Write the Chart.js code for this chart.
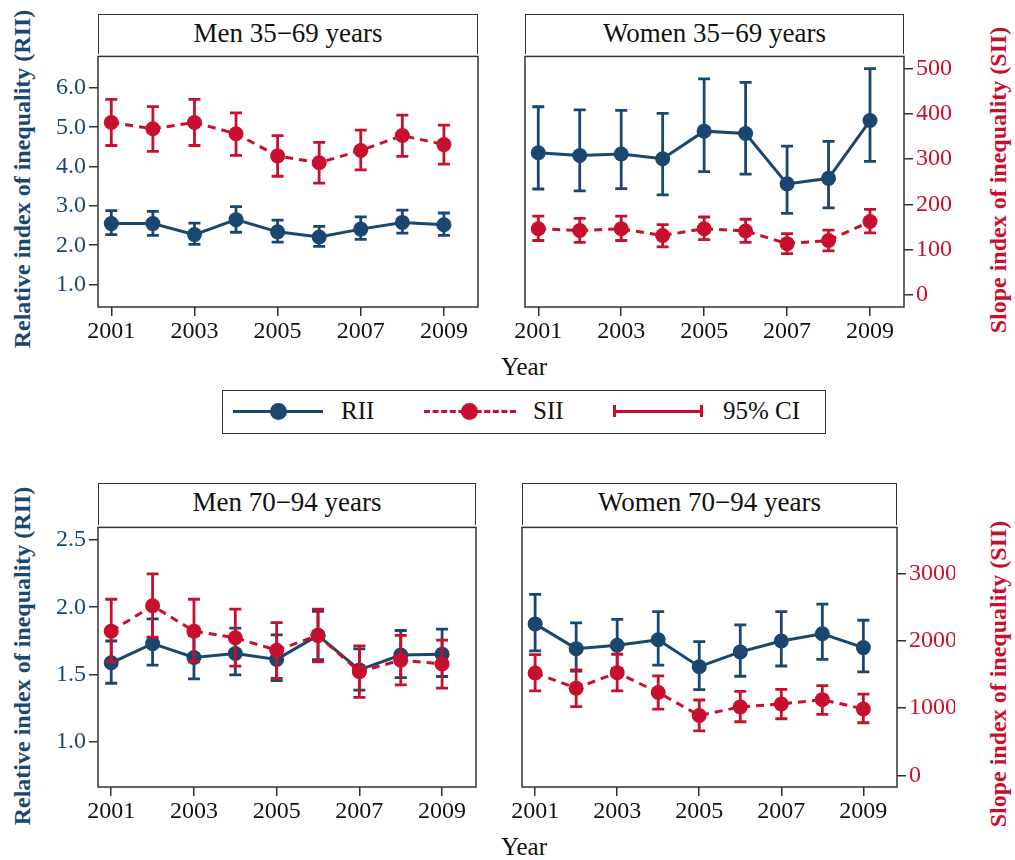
<!DOCTYPE html>
<html>
<head>
<meta charset="utf-8">
<script src="https://cdn.jsdelivr.net/npm/chart.js"></script>
<style>
  body { margin: 0; background: #fff; font-family: "Liberation Serif", serif; }
  #page { position: relative; width: 1015px; height: 860px; overflow: hidden; background: #fff; }
  canvas { position: absolute; }
  .hdr { position: absolute; box-sizing: border-box; border: 1.5px solid #333; border-bottom: none;
         text-align: center; font-size: 27px; color: #111; line-height: 37px; }
  .vtitle { position: absolute; font-weight: bold; font-size: 24px; white-space: nowrap;
            transform: translate(-50%, -50%) rotate(-90deg); }
  .xtitle { position: absolute; font-size: 25px; color: #111; transform: translate(-50%, -50%); }
  #legend { position: absolute; left: 222px; top: 390px; width: 604px; height: 44px; box-sizing: border-box;
            border: 1.5px solid #333; font-size: 25px; color: #111; }
  #legend span { position: absolute; top: 6px; }
  .lg { position: absolute; }
</style>
</head>
<body>
<div id="page">
  <div class="hdr" style="left:98px;top:14px;width:380px;height:40px;">Men 35−69 years</div>
  <div class="hdr" style="left:525px;top:14px;width:379px;height:40px;">Women 35−69 years</div>
  <div class="hdr" style="left:98px;top:483px;width:378px;height:42px;">Men 70−94 years</div>
  <div class="hdr" style="left:522px;top:483px;width:375px;height:42px;">Women 70−94 years</div>

  <div class="vtitle" style="left:22px;top:179px;color:#1a476f;">Relative index of inequality (RII)</div>
  <div class="vtitle" style="left:22px;top:656px;color:#1a476f;">Relative index of inequality (RII)</div>
  <div class="vtitle" style="left:998px;top:180px;color:#c8102e;">Slope index of inequality (SII)</div>
  <div class="vtitle" style="left:998px;top:674px;color:#c8102e;">Slope index of inequality (SII)</div>

  <div class="xtitle" style="left:524px;top:367px;">Year</div>
  <div class="xtitle" style="left:524px;top:847px;">Year</div>

  <div id="legend">
    <div class="lg" style="left:10px;top:19px;width:90px;border-top:3px solid #1a476f;"></div>
    <div class="lg" style="left:47px;top:12px;width:17px;height:17px;border-radius:50%;background:#1a476f;"></div>
    <span style="left:118px;">RII</span>
    <div class="lg" style="left:201px;top:19px;width:92px;border-top:3px dashed #c8102e;"></div>
    <div class="lg" style="left:238px;top:12px;width:17px;height:17px;border-radius:50%;background:#c8102e;"></div>
    <span style="left:310px;">SII</span>
    <div class="lg" style="left:390px;top:14px;width:90px;height:12px;box-sizing:border-box;border-left:3px solid #c8102e;border-right:3px solid #c8102e;"></div>
    <div class="lg" style="left:390px;top:19px;width:90px;border-top:3px solid #c8102e;"></div>
    <span style="left:500px;">95% CI</span>
  </div>

  <canvas id="c1"></canvas>
  <canvas id="c2"></canvas>
  <canvas id="c3"></canvas>
  <canvas id="c4"></canvas>
</div>

<script>
  var BLUE = '#1a476f';
  var RED = '#c8102e';

  var years = [2001, 2002, 2003, 2004, 2005, 2006, 2007, 2008, 2009];
  var yearTicks = [2001, 2003, 2005, 2007, 2009];

  // axis ticks
  var riiTicksYoung = [1, 2, 3, 4, 5, 6];
  var siiTicksYoung = [0, 100, 200, 300, 400, 500];
  var riiTicksOld = [1.0, 1.5, 2.0, 2.5];
  var siiTicksOld = [0, 1000, 2000, 3000];

  // Men 35-69
  var menYoungRii   = [2.55, 2.55, 2.27, 2.65, 2.34, 2.21, 2.41, 2.58, 2.52];
  var menYoungRiiLo = [2.27, 2.25, 2.02, 2.33, 2.08, 1.97, 2.15, 2.31, 2.25];
  var menYoungRiiHi = [2.88, 2.86, 2.56, 2.98, 2.64, 2.48, 2.72, 2.89, 2.82];
  var menYoungSii   = [381, 367, 381, 356, 307, 292, 319, 352, 332];
  var menYoungSiiLo = [330, 317, 330, 308, 262, 247, 276, 306, 289];
  var menYoungSiiHi = [432, 416, 432, 402, 352, 337, 364, 397, 375];

  // Women 35-69
  var womenYoungRii   = [4.35, 4.28, 4.32, 4.20, 4.90, 4.84, 3.56, 3.70, 5.17];
  var womenYoungRiiLo = [3.43, 3.38, 3.44, 3.28, 3.87, 3.81, 2.81, 2.95, 4.13];
  var womenYoungRiiHi = [5.52, 5.44, 5.43, 5.35, 6.23, 6.14, 4.52, 4.64, 6.49];
  var womenYoungSii   = [146, 142, 146, 131, 146, 141, 113, 120, 162];
  var womenYoungSiiLo = [120, 116, 120, 106, 122, 116, 91, 97, 137];
  var womenYoungSiiHi = [174, 169, 174, 155, 172, 167, 135, 143, 189];

  // Men 70-94
  var menOldRii   = [1.587, 1.729, 1.626, 1.656, 1.612, 1.791, 1.534, 1.644, 1.651];
  var menOldRiiLo = [1.435, 1.570, 1.468, 1.497, 1.455, 1.610, 1.384, 1.477, 1.485];
  var menOldRiiHi = [1.749, 1.913, 1.790, 1.844, 1.795, 1.970, 1.690, 1.827, 1.837];
  var menOldSii   = [2144, 2521, 2144, 2046, 1860, 2081, 1542, 1713, 1655];
  var menOldSiiLo = [1689, 2056, 1689, 1625, 1443, 1689, 1160, 1346, 1297];
  var menOldSiiHi = [2618, 2996, 2618, 2471, 2271, 2471, 1924, 2081, 2012];

  // Women 70-94
  var womenOldRii   = [1.876, 1.692, 1.717, 1.758, 1.558, 1.668, 1.749, 1.803, 1.700];
  var womenOldRiiLo = [1.675, 1.526, 1.546, 1.570, 1.387, 1.487, 1.563, 1.612, 1.519];
  var womenOldRiiHi = [2.096, 1.883, 1.910, 1.967, 1.744, 1.869, 1.967, 2.023, 1.903];
  var womenOldSii   = [1523, 1297, 1527, 1233, 891, 1018, 1062, 1126, 988];
  var womenOldSiiLo = [1258, 1023, 1258, 984, 661, 798, 842, 906, 783];
  var womenOldSiiHi = [1796, 1567, 1801, 1478, 1121, 1248, 1278, 1336, 1209];

  var tickFont = { family: 'Liberation Serif', size: 24 };

  // draws the 95% CI bars of each dataset right after that dataset
  var errorBars = {
    id: 'errorBars',
    afterDatasetDraw: function(chart, args) {
      var ds = chart.data.datasets[args.index];
      if (!ds.lo) return;
      var ctx = chart.ctx;
      var xs = chart.scales.x;
      var ys = chart.scales[ds.yAxisID];
      var a = chart.chartArea;
      ctx.save();
      ctx.beginPath();
      ctx.rect(a.left, a.top, a.right - a.left, a.bottom - a.top);
      ctx.clip();
      ctx.strokeStyle = ds.borderColor;
      ctx.lineWidth = 2.8;
      ctx.setLineDash([]);
      for (var i = 0; i < years.length; i++) {
        var x = xs.getPixelForValue(years[i]);
        var y1 = ys.getPixelForValue(ds.lo[i]);
        var y2 = ys.getPixelForValue(ds.hi[i]);
        ctx.beginPath();
        ctx.moveTo(x, y1); ctx.lineTo(x, y2);
        ctx.moveTo(x - 6, y1); ctx.lineTo(x + 6, y1);
        ctx.moveTo(x - 6, y2); ctx.lineTo(x + 6, y2);
        ctx.stroke();
      }
      ctx.restore();
    }
  };

  var frame = {
    id: 'frame',
    beforeDatasetsDraw: function(chart) {
      var a = chart.chartArea;
      var ctx = chart.ctx;
      ctx.save();
      ctx.strokeStyle = '#333';
      ctx.lineWidth = 1.5;
      ctx.strokeRect(a.left, a.top, a.right - a.left, a.bottom - a.top);
      ctx.restore();
    }
  };

  function pts(vals) {
    return vals.map(function(v, i) { return { x: years[i], y: v }; });
  }

  function makePanel(id, area, showLeft, showRight, rii, riiLo, riiHi, sii, siiLo, siiHi, riiRange, siiRange, riiTicks, siiTicks) {
    var cv = document.getElementById(id);
    var w = area.r - area.l + 120;
    var h = area.b - area.t + 60;
    cv.width = w; cv.height = h;
    cv.style.left = (area.l - 60) + 'px';
    cv.style.top = (area.t - 14) + 'px';

    new Chart(cv, {
      type: 'line',
      data: {
        datasets: [
          {
            label: 'RII', data: pts(rii), lo: riiLo, hi: riiHi, yAxisID: 'y', order: 2,
            borderColor: BLUE, backgroundColor: BLUE, borderWidth: 3,
            pointRadius: 7.5, pointBorderWidth: 0, pointBackgroundColor: BLUE, tension: 0
          },
          {
            label: 'SII', data: pts(sii), lo: siiLo, hi: siiHi, yAxisID: 'y2', order: 1,
            borderColor: RED, backgroundColor: RED, borderWidth: 3, borderDash: [8, 6],
            pointRadius: 7.5, pointBorderWidth: 0, pointBackgroundColor: RED, tension: 0
          }
        ]
      },
      options: {
        responsive: false,
        animation: false,
        layout: { padding: { top: 14, bottom: 6, left: showLeft ? 2 : 60, right: showRight ? 2 : 60 } },
        plugins: { legend: { display: false }, tooltip: { enabled: false } },
        scales: {
          x: {
            type: 'linear', min: 2000.68, max: 2009.82,
            afterBuildTicks: function(s) { s.ticks = yearTicks.map(function(v) { return { value: v }; }); },
            afterFit: function(s) { s.height = 40; },
            ticks: { font: tickFont, color: '#111', padding: 1, maxRotation: 0, autoSkip: false,
                     callback: function(v) { return String(v); } },
            grid: { drawOnChartArea: false, tickLength: 9, color: '#333', lineWidth: 1.5 },
            border: { display: false }
          },
          y: {
            type: 'linear', position: 'left', display: showLeft, min: riiRange[0], max: riiRange[1],
            afterBuildTicks: function(s) { s.ticks = riiTicks.map(function(v) { return { value: v }; }); },
            afterFit: function(s) { s.width = showLeft ? 58 : 0; },
            ticks: { font: tickFont, color: BLUE, padding: 3, callback: function(v) { return v.toFixed(1); } },
            grid: { drawOnChartArea: false, tickLength: 9, color: '#333', lineWidth: 1.5 },
            border: { display: false }
          },
          y2: {
            type: 'linear', position: 'right', display: showRight, min: siiRange[0], max: siiRange[1],
            afterBuildTicks: function(s) { s.ticks = siiTicks.map(function(v) { return { value: v }; }); },
            afterFit: function(s) { s.width = showRight ? 58 : 0; },
            ticks: { font: tickFont, color: RED, padding: 3, callback: function(v) { return String(v); } },
            grid: { drawOnChartArea: false, tickLength: 9, color: '#333', lineWidth: 1.5 },
            border: { display: false }
          }
        }
      },
      plugins: [frame, errorBars]
    });
  }

  var youngRii = [0.43, 6.80], youngSii = [-27, 527];
  var oldRii = [0.664, 2.593], oldSii = [-172, 3686];

  makePanel('c1', { l: 98, t: 53, r: 478, b: 307 }, true, false,
    menYoungRii, menYoungRiiLo, menYoungRiiHi, menYoungSii, menYoungSiiLo, menYoungSiiHi,
    youngRii, youngSii, riiTicksYoung, siiTicksYoung);
  makePanel('c2', { l: 525, t: 53, r: 904, b: 307 }, false, true,
    womenYoungRii, womenYoungRiiLo, womenYoungRiiHi, womenYoungSii, womenYoungSiiLo, womenYoungSiiHi,
    youngRii, youngSii, riiTicksYoung, siiTicksYoung);
  makePanel('c3', { l: 98, t: 524, r: 476, b: 787 }, true, false,
    menOldRii, menOldRiiLo, menOldRiiHi, menOldSii, menOldSiiLo, menOldSiiHi,
    oldRii, oldSii, riiTicksOld, siiTicksOld);
  makePanel('c4', { l: 522, t: 524, r: 897, b: 787 }, false, true,
    womenOldRii, womenOldRiiLo, womenOldRiiHi, womenOldSii, womenOldSiiLo, womenOldSiiHi,
    oldRii, oldSii, riiTicksOld, siiTicksOld);
</script>
</body>
</html>
